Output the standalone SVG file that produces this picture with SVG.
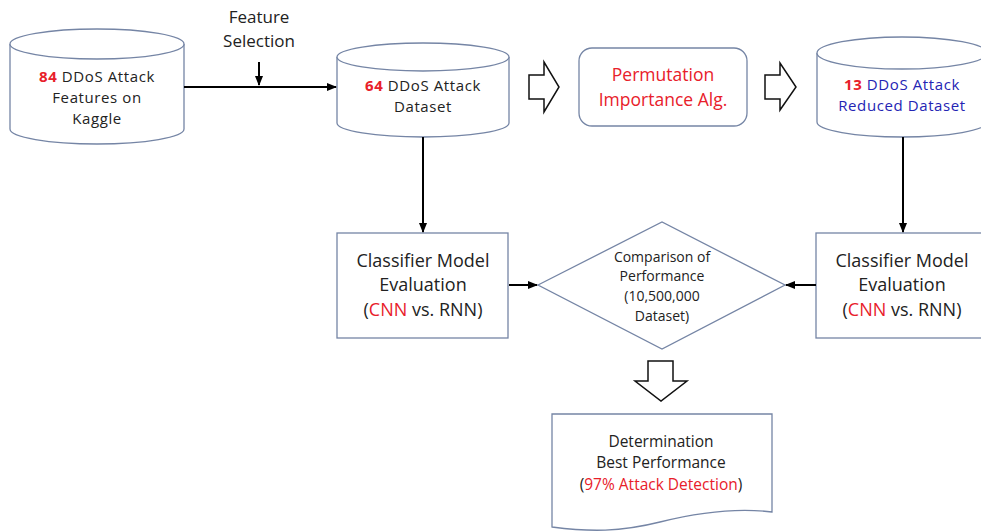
<svg xmlns="http://www.w3.org/2000/svg" width="981" height="531" viewBox="0 0 981 531">
  <style>
    .shape { fill: #ffffff; stroke: #7585a5; stroke-width: 1.3; }
    .hollow { fill: #ffffff; stroke: #111111; stroke-width: 1.5; stroke-linejoin: miter; }
    .conn { fill: none; stroke: #000000; stroke-width: 2; }
    text { font-family: "Open Sans", "Noto Sans", "Liberation Sans", sans-serif; fill: #222222; text-anchor: middle; }
    .red { fill: #e8202a; }
    .blue { fill: #2424b4; }
    .t15 { font-size: 15.5px; }
    .cyl { font-size: 15px; letter-spacing: 0.6px; }
    .t17 { font-size: 17px; }
    .t17b { font-size: 17.5px; }
    .t18 { font-size: 18px; }
    .t13 { font-size: 14px; }
  </style>
  <defs>
    <marker id="arrow" viewBox="0 0 10 10" refX="9" refY="5" markerWidth="5" markerHeight="5" orient="auto" markerUnits="strokeWidth">
      <path d="M0,1 L10,5 L0,9 Z" fill="#000000"/>
    </marker>
  </defs>

  <rect width="981" height="531" fill="#ffffff"/>

  <!-- source dataset cylinder -->
  <g id="node-kaggle">
    <path class="shape" d="M10,44 L10,129 A87,15 0 0 0 184,129 L184,44"/>
    <ellipse class="shape" cx="97" cy="44" rx="87" ry="15"/>
    <text class="cyl" x="97" y="82"><tspan class="red" font-weight="bold">84</tspan> DDoS Attack</text>
    <text class="cyl" x="97" y="103">Features on</text>
    <text class="cyl" x="97" y="124">Kaggle</text>
  </g>

  <!-- feature selection label -->
  <g id="label-feature-selection">
    <text class="t17" x="259" y="23">Feature</text>
    <text class="t17" x="259" y="47">Selection</text>
  </g>

  <!-- selected dataset cylinder -->
  <g id="node-64">
    <path class="shape" d="M337,57 L337,123 A86,14 0 0 0 509,123 L509,57"/>
    <ellipse class="shape" cx="423" cy="57" rx="86" ry="14"/>
    <text class="cyl" x="423" y="91"><tspan class="red" font-weight="bold">64</tspan> DDoS Attack</text>
    <text class="cyl" x="423" y="112">Dataset</text>
  </g>

  <!-- permutation importance -->
  <g id="node-permutation">
    <rect class="shape" x="579" y="48" width="168" height="78" rx="13" ry="13"/>
    <text class="t17b red" x="663" y="81">Permutation</text>
    <text class="t17b red" x="663" y="106">Importance Alg.</text>
  </g>

  <!-- reduced dataset cylinder -->
  <g id="node-13">
    <path class="shape" d="M817,53 L817,122 A85,15 0 0 0 987,122 L987,53"/>
    <ellipse class="shape" cx="902" cy="53" rx="85" ry="16"/>
    <text class="cyl blue" x="902" y="90"><tspan class="red" font-weight="bold">13</tspan> DDoS Attack</text>
    <text class="cyl blue" x="902" y="111">Reduced Dataset</text>
  </g>

  <!-- classifier evaluation, full set -->
  <g id="node-classifier-left">
    <rect class="shape" x="337" y="233" width="171" height="105"/>
    <text class="t18" x="423" y="267">Classifier Model</text>
    <text class="t18" x="423" y="291">Evaluation</text>
    <text class="t18" x="423" y="316">(<tspan class="red">CNN</tspan> vs. RNN)</text>
  </g>

  <!-- classifier evaluation, reduced set -->
  <g id="node-classifier-right">
    <rect class="shape" x="816" y="233" width="180" height="105"/>
    <text class="t18" x="902" y="267">Classifier Model</text>
    <text class="t18" x="902" y="291">Evaluation</text>
    <text class="t18" x="902" y="316">(<tspan class="red">CNN</tspan> vs. RNN)</text>
  </g>

  <!-- comparison decision -->
  <g id="node-comparison">
    <polygon class="shape" points="538,285 662,222 785,285 662,349"/>
    <text class="t13" x="662" y="262">Comparison of</text>
    <text class="t13" x="662" y="281">Performance</text>
    <text class="t13" x="662" y="301">(10,500,000</text>
    <text class="t13" x="662" y="321">Dataset)</text>
  </g>

  <!-- result document -->
  <g id="node-result">
    <path class="shape" d="M552,414 L772,414 L772,512 C740,508 700,512 660,522 C620,532 590,532 552,527 Z"/>
    <text class="t15" x="661" y="447">Determination</text>
    <text class="t15" x="661" y="468">Best Performance</text>
    <text class="t15" x="661" y="490">(<tspan class="red">97% Attack Detection</tspan>)</text>
  </g>

  <!-- connectors -->
  <g id="connectors">
    <line class="conn" x1="184" y1="87" x2="336" y2="87" marker-end="url(#arrow)"/>
    <line class="conn" x1="259" y1="62" x2="259" y2="85" marker-end="url(#arrow)"/>
    <line class="conn" x1="423" y1="137" x2="423" y2="232" marker-end="url(#arrow)"/>
    <line class="conn" x1="903" y1="137" x2="903" y2="232" marker-end="url(#arrow)"/>
    <line class="conn" x1="509" y1="285" x2="537" y2="285" marker-end="url(#arrow)"/>
    <line class="conn" x1="816" y1="285" x2="786" y2="285" marker-end="url(#arrow)"/>
    <polygon class="hollow" points="529,75 544,75 544,62 559,87 544,112 544,99 529,99"/>
    <polygon class="hollow" points="765,75 780,75 780,63 796,87 780,110 780,99 765,99"/>
    <polygon class="hollow" points="648,361 673,361 673,381 687,381 661,401 635,381 648,381"/>
  </g>
</svg>
